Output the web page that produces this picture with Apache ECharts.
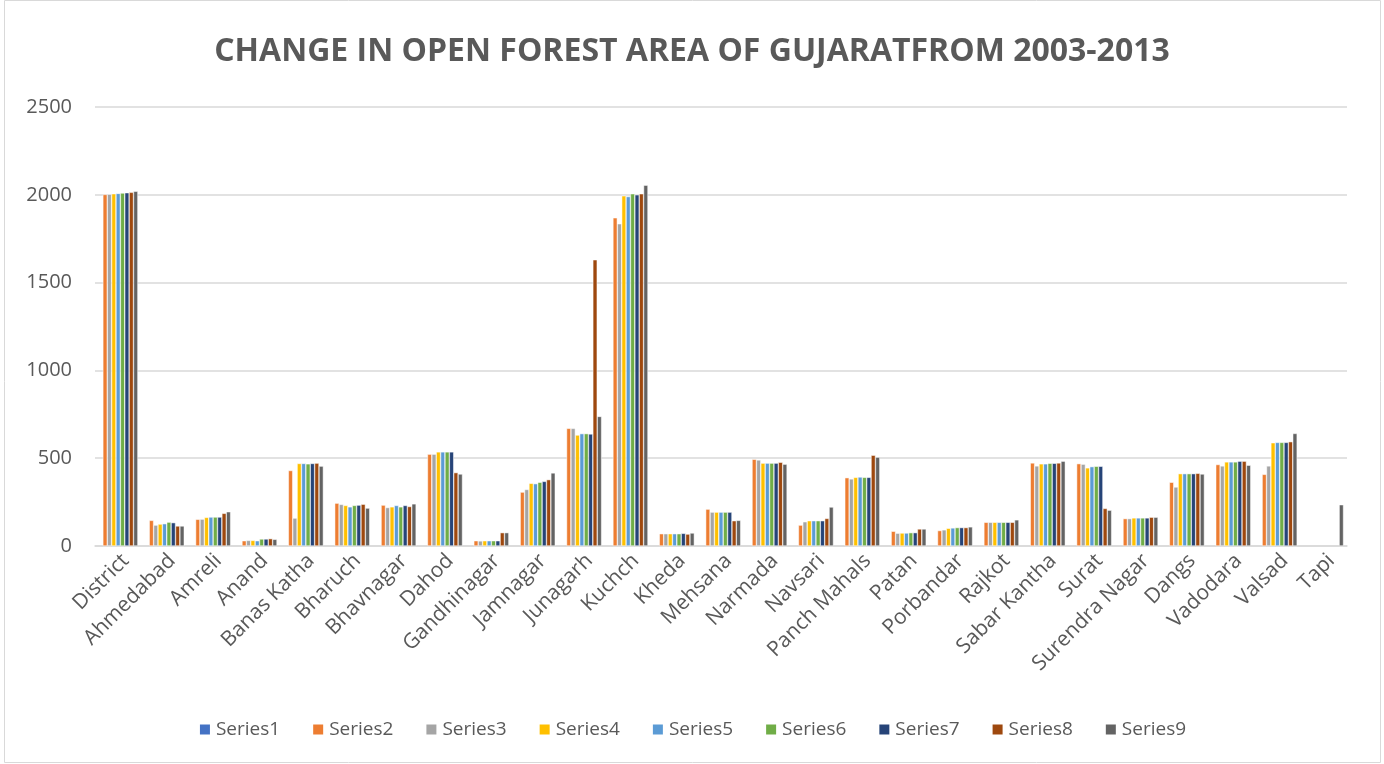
<!DOCTYPE html>
<html>
<head>
<meta charset="utf-8">
<script src="https://cdn.jsdelivr.net/npm/echarts@6/dist/echarts.min.js"></script>
<style>
html,body{margin:0;padding:0;background:#fff;}
#chart{width:1384px;height:764px;}
</style>
</head>
<body>
<div id="chart"></div>
<script>
const categories = ["District","Ahmedabad","Amreli","Anand","Banas Katha","Bharuch","Bhavnagar","Dahod","Gandhinagar","Jamnagar","Junagarh","Kuchch","Kheda","Mehsana","Narmada","Navsari","Panch Mahals","Patan","Porbandar","Rajkot","Sabar Kantha","Surat","Surendra Nagar","Dangs","Vadodara","Valsad","Tapi"];
const seriesNames = ["Series1","Series2","Series3","Series4","Series5","Series6","Series7","Series8","Series9"];
const series1 = [null,null,null,null,null,null,null,null,null,null,null,null,null,null,null,null,null,null,null,null,null,null,null,null,null,null,null];
const series2 = [2002,146,152,30,430,244,233,523,30,307,670,1869,70,210,494,119,389,84,88,135,473,469,156,363,464,408,null];
const series3 = [2003,119,153,32,159,237,219,523,29,322,670,1835,70,193,490,138,382,73,92,135,456,466,156,336,456,456,null];
const series4 = [2006,125,163,32,470,231,223,536,30,357,632,1994,70,193,472,144,391,74,101,135,468,445,160,412,479,588,null];
const series5 = [2008,127,165,30,470,223,231,536,30,355,640,1990,70,193,472,144,393,74,103,135,468,452,160,412,479,590,null];
const series6 = [2010,136,165,40,468,231,223,536,30,363,640,2006,70,193,472,144,391,76,105,135,471,454,160,412,479,590,null];
const series7 = [2012,133,165,40,470,233,231,536,30,368,638,2000,72,193,472,144,391,76,105,135,471,454,160,412,483,590,null];
const series8 = [2014,114,186,42,472,238,225,418,76,378,1630,2006,68,144,477,157,517,97,105,135,473,214,164,414,483,594,null];
const series9 = [2020,114,195,38,455,216,240,410,76,416,738,2055,74,146,466,222,506,97,109,149,483,204,164,410,460,641,235];
const colors = ["#4472C4","#ED7D31","#A5A5A5","#FFC000","#5B9BD5","#70AD47","#264478","#9E480E","#636363"];

const allData = [series1,series2,series3,series4,series5,series6,series7,series8,series9];
const chart = echarts.init(document.getElementById('chart'));
const font = "'Open Sans', sans-serif";
chart.setOption({
  animation:false,
  color: colors,
  title:{
    text:"CHANGE IN OPEN FOREST AREA OF GUJARATFROM 2003-2013",
    left:'center', top:31,
    textStyle:{fontFamily:font,fontWeight:'bold',fontSize:32,color:'#595959'}
  },
  graphic:[{type:'rect',shape:{x:4.5,y:0.5,width:1376,height:762},style:{fill:'none',stroke:'#d9d9d9',lineWidth:1},silent:true}],
  legend:{
    bottom:20, left:'center',
    itemWidth:12, itemHeight:12, itemGap:31,
    icon:'rect',
    textStyle:{fontFamily:font,fontSize:19,color:'#595959'},
    data:seriesNames
  },
  grid:{left:95,right:37,top:107,bottom:218,containLabel:false},
  xAxis:{
    type:'category',
    data:categories,
    axisLine:{lineStyle:{color:'#d9d9d9',width:1.5}},
    axisTick:{show:false},
    axisLabel:{rotate:45,interval:0,fontFamily:font,fontSize:21,color:'#595959',margin:4,verticalAlign:'top'}
  },
  yAxis:{
    type:'value', min:0, max:2500, interval:500,
    axisLine:{show:false}, axisTick:{show:false},
    splitLine:{lineStyle:{color:'#d9d9d9',width:1.5}},
    axisLabel:{fontFamily:font,fontSize:20,color:'#595959',margin:23,formatter:v=>String(v)}
  },
  series: seriesNames.map((n,i)=>({
    name:n, type:'bar', data:allData[i],
    barGap:'0%', barCategoryGap:'15%',
    itemStyle:{color:colors[i],borderColor:'#ffffff',borderWidth:0.5}
  }))
});
</script>
</body>
</html>
